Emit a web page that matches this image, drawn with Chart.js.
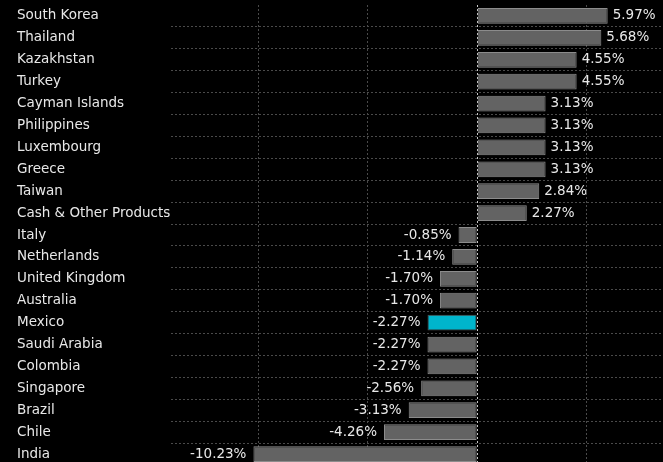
<!DOCTYPE html>
<html>
<head>
<meta charset="utf-8">
<script src="https://cdn.jsdelivr.net/npm/chart.js@4/dist/chart.umd.min.js"></script>
<style>
  html, body { margin: 0; padding: 0; background: #000; overflow: hidden; }
  #wrap { width: 663px; height: 465px; }
</style>
</head>
<body>
<div id="wrap"><canvas id="chart"></canvas></div>
<script>
const countries = ['South Korea', 'Thailand', 'Kazakhstan', 'Turkey', 'Cayman Islands', 'Philippines',
    'Luxembourg', 'Greece', 'Taiwan', 'Cash & Other Products', 'Italy', 'Netherlands',
    'United Kingdom', 'Australia', 'Mexico', 'Saudi Arabia', 'Colombia', 'Singapore',
    'Brazil', 'Chile', 'India'];
const weights = [5.97, 5.68, 4.55, 4.55, 3.13, 3.13, 3.13, 3.13, 2.84, 2.27, -0.85, -1.14,
    -1.70, -1.70, -2.27, -2.27, -2.27, -2.56, -3.13, -4.26, -10.23];
const gridValues = [-10, -5, 0, 5];
const highlight = 'Mexico';

const barColors = countries.map(c => c === highlight ? '#00b5cc' : '#636363');
const borderColors = countries.map(c => c === highlight ? '#555' : '#8c8c8c');

const FONT = '13.5px "DejaVu Sans"';
const TEXT = '#e8e8e8';

// country names on the left + value labels next to each bar
const textLabels = {
    id: 'textLabels',
    afterDatasetsDraw(chart) {
        const ctx = chart.ctx;
        const meta = chart.getDatasetMeta(0);
        const yScale = chart.scales.y;
        ctx.save();
        ctx.font = FONT;
        ctx.fillStyle = TEXT;
        ctx.textBaseline = 'middle';

        ctx.textAlign = 'left';
        countries.forEach((c, i) => {
            ctx.fillText(c, 17, yScale.getPixelForTick(i));
        });

        meta.data.forEach((bar, i) => {
            let v = weights[i];
            let txt = v.toFixed(2) + '%';
            if (v >= 0) {
                ctx.textAlign = 'left';
                ctx.fillText(txt, bar.x + 5, bar.y);
            } else {
                ctx.textAlign = 'right';
                ctx.fillText(txt, bar.x - 7, bar.y);
            }
        });
        ctx.restore();
    }
};

new Chart(document.getElementById('chart'), {
    type: 'bar',
    data: {
        labels: countries,
        datasets: [{
            data: weights,
            backgroundColor: barColors,
            borderColor: borderColors,
            borderWidth: 1,
            borderSkipped: false,
            barPercentage: 0.72,
            categoryPercentage: 1
        }]
    },
    options: {
        indexAxis: 'y',
        responsive: true,
        maintainAspectRatio: false,
        animation: false,
        layout: { padding: { left: 0, top: 5, bottom: 0, right: 0 } },
        plugins: {
            legend: { display: false },
            tooltip: { enabled: false }
        },
        scales: {
            x: {
                min: -14,
                max: 8.5,
                ticks: { display: false },
                afterBuildTicks(scale) {
                    scale.ticks = gridValues.map(v => ({ value: v }));
                },
                afterFit(scale) { scale.height = 0; },
                grid: {
                    drawTicks: false,
                    color: ctx => ctx.tick && ctx.tick.value === 0 ? '#c8c8c8' : '#4a4a4a',
                    lineWidth: 1
                },
                border: { display: false, dash: [2, 2] }
            },
            y: {
                afterFit(scale) { scale.width = 171; },
                ticks: { display: false, autoSkip: false },
                grid: {
                    drawTicks: false,
                    color: ctx => ctx.index === 0 ? 'rgba(0,0,0,0)' : '#4a4a4a',
                    lineWidth: 1
                },
                border: { display: false, dash: [2, 2] }
            }
        }
    },
    plugins: [textLabels]
});
</script>
</body>
</html>
